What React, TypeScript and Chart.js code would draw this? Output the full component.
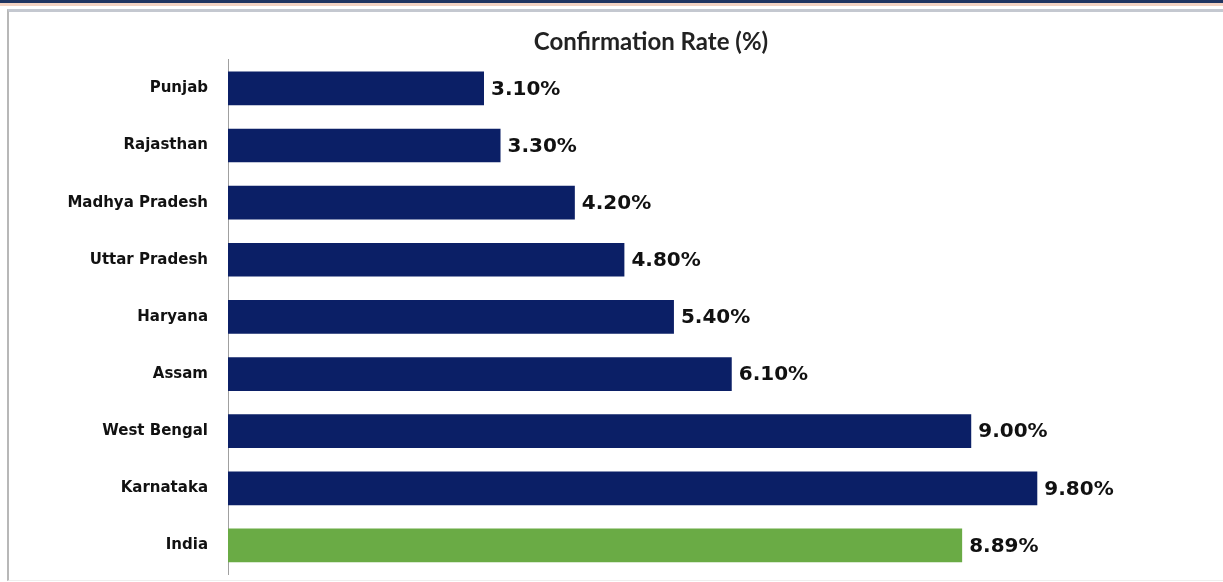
import React, { useEffect, useRef } from "react";
import { Chart, registerables } from "chart.js";

Chart.register(...registerables);

const categories = [
  "Punjab",
  "Rajasthan",
  "Madhya Pradesh",
  "Uttar Pradesh",
  "Haryana",
  "Assam",
  "West Bengal",
  "Karnataka",
  "India",
];
const confirmationRate = [3.1, 3.3, 4.2, 4.8, 5.4, 6.1, 9.0, 9.8, 8.89];
const valueLabels = ["3.10%", "3.30%", "4.20%", "4.80%", "5.40%", "6.10%", "9.00%", "9.80%", "8.89%"];
const barColors = ["#0b1f66", "#0b1f66", "#0b1f66", "#0b1f66", "#0b1f66", "#0b1f66", "#0b1f66", "#0b1f66", "#6aab45"];
const chartTitle = "Confirmation Rate (%)";
const axisMin = 0;
const axisMax = 12.4;

const valueLabelPlugin = {
  id: "valueLabels",
  afterDatasetsDraw(chart: any) {
    const ctx = chart.ctx;
    const meta = chart.getDatasetMeta(0);
    ctx.save();
    ctx.font = "bold 20px 'DejaVu Sans'";
    ctx.fillStyle = "#111111";
    ctx.textAlign = "left";
    ctx.textBaseline = "middle";
    meta.data.forEach((bar: any, i: number) => {
      ctx.fillText(valueLabels[i], bar.x + 7, bar.y + 1);
    });
    ctx.restore();
  },
};

const CANVAS_LEFT = 50;
const CANVAS_WIDTH = 1202;

export default function App() {
  const canvasRef = useRef<HTMLCanvasElement | null>(null);

  useEffect(() => {
    document.body.style.margin = "0";
    const canvas = canvasRef.current;
    if (!canvas) return;
    const chart = new Chart(canvas, {
      type: "bar",
      data: {
        labels: categories,
        datasets: [
          {
            data: confirmationRate,
            backgroundColor: barColors,
            borderWidth: 0,
            categoryPercentage: 0.59,
            barPercentage: 1,
          },
        ],
      },
      options: {
        indexAxis: "y",
        animation: false,
        responsive: false,
        devicePixelRatio: 1,
        layout: { padding: { left: 0, right: 0, top: 0, bottom: 8 } },
        plugins: {
          legend: { display: false },
          tooltip: { enabled: false },
          title: {
            display: true,
            text: chartTitle,
            color: "#222222",
            font: { family: "Lato", size: 24, weight: "bold" },
            padding: { top: 28, bottom: 3 },
            lineHeight: 1.2,
          } as any,
        },
        scales: {
          x: {
            display: false,
            min: axisMin,
            max: axisMax,
          },
          y: {
            grid: { display: false, drawTicks: false },
            border: { display: true, color: "#a0a0a0", width: 1 },
            ticks: {
              color: "#111111",
              padding: 20,
              font: { family: "DejaVu Sans", size: 15, weight: "bold" },
            },
            afterFit: (scale: any) => {
              scale.width = 178;
              scale.paddingTop = 0;
              scale.paddingBottom = 0;
            },
          },
        },
      },
      plugins: [valueLabelPlugin],
    });
    return () => chart.destroy();
  }, []);

  return (
    <div style={{ position: "fixed", left: 0, top: 0, width: 1223, height: 582, background: "#ffffff", overflow: "hidden" }}>
      <div style={{ position: "absolute", left: 0, top: 0, width: 1223, height: 3, background: "#1f3461" }} />
      <div style={{ position: "absolute", left: 0, top: 3, width: 1223, height: 3, background: "#f3d2c2" }} />
      <div
        style={{
          position: "absolute",
          left: 7,
          top: 9,
          width: 1240,
          height: 568,
          borderTop: "3px solid #c4c8d0",
          borderLeft: "2px solid #b8b8b8",
          borderBottom: "1px solid #eeeeee",
        }}
      />
      <canvas
        ref={canvasRef}
        width={CANVAS_WIDTH}
        height={582}
        style={{ position: "absolute", left: CANVAS_LEFT, top: 0, width: CANVAS_WIDTH, height: 582 }}
      />
    </div>
  );
}
